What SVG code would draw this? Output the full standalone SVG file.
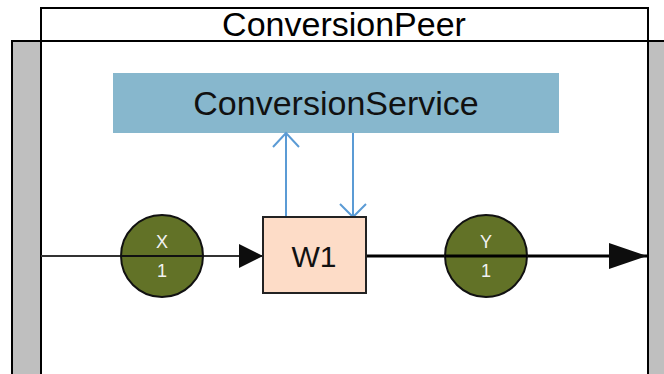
<svg xmlns="http://www.w3.org/2000/svg" width="664" height="374" viewBox="0 0 664 374">
  <defs>
    <style>
      .frame { fill: #ffffff; stroke: #000000; stroke-width: 2; }
      .band { fill: #bfbfbf; stroke: #000000; stroke-width: 2; }
      .title { font-family: "Liberation Sans", Arial, sans-serif; font-size: 34px; fill: #000000; text-anchor: middle; }
      .service { fill: #87b7cd; }
      .service-label { font-family: "Liberation Sans", Arial, sans-serif; font-size: 34px; fill: #111111; text-anchor: middle; }
      .worker { fill: #fddcc7; stroke: #222222; stroke-width: 2; }
      .worker-label { font-family: "Liberation Sans", Arial, sans-serif; font-size: 30px; fill: #111111; text-anchor: middle; }
      .place { fill: #627227; stroke: #111111; stroke-width: 2; }
      .place-label { font-family: "Liberation Sans", Arial, sans-serif; font-size: 18px; fill: #f2f2f2; text-anchor: middle; }
      .flow-in { stroke: #333333; stroke-width: 2; fill: none; }
      .flow-out { stroke: #000000; stroke-width: 3; fill: none; }
      .call { stroke: #5b9bd5; stroke-width: 2; fill: none; }
    </style>
    <marker id="head-small" markerWidth="24" markerHeight="24" refX="24" refY="12" orient="auto" markerUnits="userSpaceOnUse">
      <path d="M0,0 L24,12 L0,24 Z" fill="#0d0d0d"/>
    </marker>
    <marker id="head-large" markerWidth="38" markerHeight="26" refX="38" refY="13" orient="auto" markerUnits="userSpaceOnUse">
      <path d="M0,0 L38,13 L0,26 Z" fill="#0d0d0d"/>
    </marker>
  </defs>

  <!-- peer container: grey side bands and white body -->
  <g id="peer">
    <rect class="band" x="12" y="41" width="670" height="360"/>
    <rect class="frame" x="41" y="41" width="607" height="360"/>
    <rect class="frame" x="41" y="8" width="607" height="33"/>
    <text class="title" x="344" y="36">ConversionPeer</text>
  </g>

  <g id="conversion-service">
    <rect class="service" x="113" y="73" width="446" height="60"/>
    <text class="service-label" x="336" y="115">ConversionService</text>
  </g>

  <!-- connectors -->
  <g id="connectors">
    <line class="flow-in" x1="41" y1="256" x2="263" y2="256" marker-end="url(#head-small)"/>
    <line class="flow-out" x1="366" y1="256" x2="647" y2="256" marker-end="url(#head-large)"/>
    <line class="call" x1="286" y1="217" x2="286" y2="133"/>
    <path d="M273,147 L286,133 L299,147" class="call"/>
    <line class="call" x1="353" y1="133" x2="353" y2="217"/>
    <path d="M340,204 L353,217 L366,204" class="call"/>
  </g>

  <g id="place-x">
    <circle class="place" cx="162" cy="256" r="41"/>
    <line x1="121" y1="256" x2="203" y2="256" stroke="#111111" stroke-width="2"/>
    <text class="place-label" x="162" y="248">X</text>
    <text class="place-label" x="162" y="277">1</text>
  </g>

  <g id="worker-w1">
    <rect class="worker" x="263" y="217" width="103" height="76"/>
    <text class="worker-label" x="314" y="267">W1</text>
  </g>

  <g id="place-y">
    <circle class="place" cx="486" cy="256" r="41"/>
    <line x1="445" y1="256" x2="527" y2="256" stroke="#000000" stroke-width="3"/>
    <text class="place-label" x="486" y="248">Y</text>
    <text class="place-label" x="486" y="277">1</text>
  </g>
</svg>
